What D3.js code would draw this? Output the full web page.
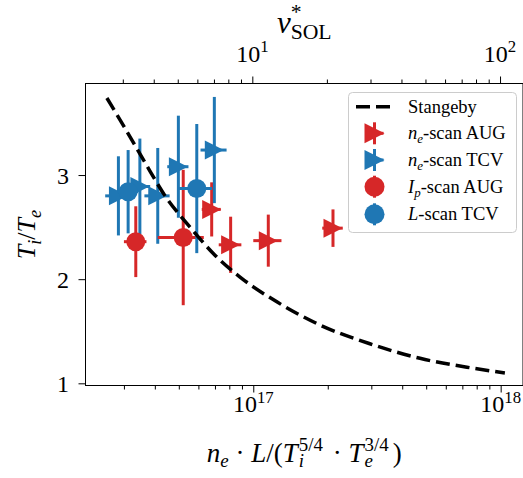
<!DOCTYPE html>
<html>
<head>
<meta charset="utf-8">
<script src="https://cdn.jsdelivr.net/npm/d3@7"></script>
<style>
body { margin: 0; background: #fff; }
svg { display: block; font-family: "Liberation Serif", "DejaVu Serif", serif; }
</style>
</head>
<body>
<svg id="chart" width="523" height="478"></svg>
<script>
// Stangeby curve
const stangebyX = [2.56e16, 3.03e16, 3.65e16, 4.40e16, 5.55e16, 7.00e16, 8.84e16, 1.25e17, 1.86e17, 2.96e17, 4.72e17, 7.51e17, 1.04e18];
const stangebyY = [3.74, 3.45, 3.12, 2.80, 2.50, 2.23, 2.02, 1.78, 1.56, 1.38, 1.24, 1.15, 1.10];

// n_e-scan AUG
const augNeX = [6.79e16, 8.10e16, 1.15e17, 2.10e17];
const augNeY = [2.67, 2.33, 2.37, 2.49];
const augNeXErr = [0.6e16, 0.85e16, 1.5e16, 2.0e16];
const augNeYErr = [0.26, 0.27, 0.25, 0.18];

// n_e-scan TCV
const tcvNeX = [2.85e16, 3.48e16, 4.11e16, 4.98e16, 6.96e16];
const tcvNeY = [2.80, 2.89, 2.80, 3.08, 3.24];
const tcvNeXErr = [0.33e16, 0.35e16, 0.48e16, 0.49e16, 0.84e16];
const tcvNeYErr = [0.38, 0.46, 0.46, 0.49, 0.51];

// I_p-scan AUG
const augIpX = [3.35e16, 5.21e16];
const augIpY = [2.36, 2.40];
const augIpXErr = [0.35e16, 1.1e16];
const augIpYErr = [0.34, 0.65];

// L-scan TCV
const tcvLX = [3.12e16, 5.91e16];
const tcvLY = [2.84, 2.87];
const tcvLXErr = [0.3e16, 0.9e16];
const tcvLYErr = [0.40, 0.62];

const xTicks = [1e17, 1e18];
const xTickExp = ["17", "18"];
const nuTicks = [10, 100];
const nuTickExp = ["1", "2"];
const yTicks = [1, 2, 3];

const RED = "#d62728", BLUE = "#1f77b4";
const L = 85.5, R = 523, T = 83.5, B = 385.5;

const svg = d3.select("#chart");

const x = d3.scaleLog().domain([2.098e16, 1.231e18]).range([L, R]);
const nu = d3.scaleLog().domain([2.121, 123.8]).range([L, R]);
const y = d3.scaleLinear().domain([0.979, 3.879]).range([B, T]);

// little mathtext-like layout: parts = {t, i, s: "sub"|"sup", stack, dy, gap}
function mathLabel(parent, parts, px, py, size, anchor, rotate) {
  const g = parent.append("g");
  const inner = g.append("g");
  let cx = 0, stackStart = 0;
  parts.forEach(p => {
    const fs = p.s ? size * 0.7 : size;
    let dy = p.s === "sup" ? -size * 0.38 : p.s === "sub" ? size * 0.22 : 0;
    if (p.dy !== undefined) dy = p.dy;
    const start = p.stack ? stackStart : cx;
    const t = inner.append("text")
      .attr("x", start).attr("y", dy)
      .attr("font-size", fs)
      .attr("font-style", p.i ? "italic" : "normal")
      .attr("fill", "#000")
      .text(p.t);
    const w = t.node().getComputedTextLength() + (p.gap || 0);
    if (p.stack) cx = Math.max(cx, start + w);
    else { stackStart = start; cx = start + w; }
  });
  const shift = anchor === "middle" ? -cx / 2 : anchor === "end" ? -cx : 0;
  g.attr("transform", `translate(${px},${py})` + (rotate ? ` rotate(${rotate})` : ""));
  inner.attr("transform", `translate(${shift},0)`);
  return g;
}

// minor ticks
const minorX = [];
[1e16, 1e17].forEach(d => { for (let k = 2; k < 10; k++) minorX.push(k * d); });
const minorNu = [];
[1, 10].forEach(d => { for (let k = 2; k < 10; k++) minorNu.push(k * d); });

function styleAxis(g) {
  g.select(".domain").remove();
  g.selectAll("line").attr("stroke", "#000").attr("stroke-width", 1);
}

svg.append("g").attr("transform", `translate(0,${B})`)
  .call(d3.axisBottom(x).tickValues(minorX.filter(v => v >= x.domain()[0] && v <= x.domain()[1]))
    .tickSize(4).tickSizeOuter(0).tickFormat(""))
  .call(styleAxis);
svg.append("g").attr("transform", `translate(0,${B})`)
  .call(d3.axisBottom(x).tickValues(xTicks).tickSize(7).tickSizeOuter(0).tickFormat(""))
  .call(styleAxis);

svg.append("g").attr("transform", `translate(0,${T})`)
  .call(d3.axisTop(nu).tickValues(minorNu.filter(v => v >= nu.domain()[0] && v <= nu.domain()[1]))
    .tickSize(4).tickSizeOuter(0).tickFormat(""))
  .call(styleAxis);
svg.append("g").attr("transform", `translate(0,${T})`)
  .call(d3.axisTop(nu).tickValues(nuTicks).tickSize(7).tickSizeOuter(0).tickFormat(""))
  .call(styleAxis);

svg.append("g").attr("transform", `translate(${L},0)`)
  .call(d3.axisLeft(y).tickValues(yTicks).tickSize(7).tickSizeOuter(0).tickFormat(""))
  .call(styleAxis);

// tick labels
xTicks.forEach((v, i) => mathLabel(svg, [{ t: "10" }, { t: xTickExp[i], s: "sup" }], x(v), 412, 24, "middle"));
nuTicks.forEach((v, i) => mathLabel(svg, [{ t: "10" }, { t: nuTickExp[i], s: "sup" }], nu(v), 61.5, 24, "middle"));
yTicks.forEach(v => svg.append("text")
  .attr("x", 69).attr("y", y(v) + 8.5)
  .attr("text-anchor", "end").attr("font-size", 24).text(v));

// axis labels
mathLabel(svg, [
  { t: "n", i: true }, { t: "e", i: true, s: "sub" },
  { t: "\u00a0·\u00a0" }, { t: "L", i: true }, { t: "/(" },
  { t: "T", i: true, gap: 1 }, { t: "5/4", s: "sup", gap: 3 }, { t: "i", i: true, s: "sub", stack: true },
  { t: "\u00a0·\u00a0" },
  { t: "T", i: true, gap: 1 }, { t: "3/4", s: "sup", gap: 4 }, { t: "e", i: true, s: "sub", stack: true },
  { t: ")" }
], (L + R) / 2, 461.5, 27, "middle");

mathLabel(svg, [
  { t: "T", i: true }, { t: "i", i: true, s: "sub" }, { t: "/" },
  { t: "T", i: true }, { t: "e", i: true, s: "sub" }
], 35, (T + B) / 2, 26, "middle", -90);

mathLabel(svg, [
  { t: "ν", i: true }, { t: "*", s: "sup", dy: -14 }, { t: "SOL", s: "sub", stack: true, dy: 6 }
], (L + R) / 2, 33, 31, "middle");

// data
const tri = s => `M${s / 2},0L${-s / 2},${-s / 2}L${-s / 2},${s / 2}Z`;
const MS = 19;

function series(xs, ys, xe, ye, color, marker) {
  const data = xs.map((v, i) => ({ x: v, y: ys[i], xe: xe[i], ye: ye[i] }));
  const g = svg.append("g");
  g.selectAll(".eb-x").data(data).enter().append("line")
    .attr("x1", d => x(d.x - d.xe)).attr("x2", d => x(d.x + d.xe))
    .attr("y1", d => y(d.y)).attr("y2", d => y(d.y))
    .attr("stroke", color).attr("stroke-width", 3);
  g.selectAll(".eb-y").data(data).enter().append("line")
    .attr("x1", d => x(d.x)).attr("x2", d => x(d.x))
    .attr("y1", d => y(d.y - d.ye)).attr("y2", d => y(d.y + d.ye))
    .attr("stroke", color).attr("stroke-width", 3);
  if (marker === "tri") {
    g.selectAll(".mk").data(data).enter().append("path")
      .attr("d", tri(MS))
      .attr("transform", d => `translate(${x(d.x)},${y(d.y)})`)
      .attr("fill", color);
  } else {
    g.selectAll(".mk").data(data).enter().append("circle")
      .attr("cx", d => x(d.x)).attr("cy", d => y(d.y)).attr("r", MS / 2)
      .attr("fill", color);
  }
}

series(augNeX, augNeY, augNeXErr, augNeYErr, RED, "tri");
series(tcvNeX, tcvNeY, tcvNeXErr, tcvNeYErr, BLUE, "tri");
series(augIpX, augIpY, augIpXErr, augIpYErr, RED, "circle");
series(tcvLX, tcvLY, tcvLXErr, tcvLYErr, BLUE, "circle");

const line = d3.line().x(d => x(d[0])).y(d => y(d[1])).curve(d3.curveMonotoneX);
svg.append("path")
  .datum(stangebyX.map((v, i) => [v, stangebyY[i]]))
  .attr("d", line)
  .attr("fill", "none").attr("stroke", "#000")
  .attr("stroke-width", 3.5).attr("stroke-dasharray", "14,6");

// frame
svg.append("rect").attr("x", L).attr("y", T).attr("width", R - L).attr("height", B - T)
  .attr("fill", "none").attr("stroke", "#000").attr("stroke-width", 1);

// legend
const lg = svg.append("g");
lg.append("rect").attr("x", 348.5).attr("y", 92.5).attr("width", 168).attr("height", 140)
  .attr("rx", 4).attr("fill", "#fff").attr("fill-opacity", 0.8)
  .attr("stroke", "#cccccc").attr("stroke-width", 1);
const hx = 374.5, tx = 408;
const rows = [106.7, 133.3, 160, 186.7, 214.3];
lg.append("line").attr("x1", 356).attr("x2", 393).attr("y1", rows[0]).attr("y2", rows[0])
  .attr("stroke", "#000").attr("stroke-width", 3.5).attr("stroke-dasharray", "14,6");
const legendItems = [
  { color: RED, marker: "tri", parts: [{ t: "n", i: true }, { t: "e", i: true, s: "sub" }, { t: "-scan AUG" }] },
  { color: BLUE, marker: "tri", parts: [{ t: "n", i: true }, { t: "e", i: true, s: "sub" }, { t: "-scan TCV" }] },
  { color: RED, marker: "circle", parts: [{ t: "I", i: true }, { t: "p", i: true, s: "sub" }, { t: "-scan AUG" }] },
  { color: BLUE, marker: "circle", parts: [{ t: "L", i: true }, { t: "-scan TCV" }] }
];
mathLabel(lg, [{ t: "Stangeby" }], tx, rows[0] + 6, 18.5, "start");
legendItems.forEach((it, i) => {
  const cy = rows[i + 1];
  lg.append("line").attr("x1", hx).attr("x2", hx).attr("y1", cy - 11).attr("y2", cy + 11)
    .attr("stroke", it.color).attr("stroke-width", 3);
  lg.append("line").attr("x1", hx - 9).attr("x2", hx + 9).attr("y1", cy).attr("y2", cy)
    .attr("stroke", it.color).attr("stroke-width", 3);
  if (it.marker === "tri") {
    lg.append("path").attr("d", tri(20)).attr("transform", `translate(${hx},${cy})`).attr("fill", it.color);
  } else {
    lg.append("circle").attr("cx", hx).attr("cy", cy).attr("r", 10).attr("fill", it.color);
  }
  mathLabel(lg, it.parts, tx, cy + 6, 18.5, "start");
});
</script>
</body>
</html>
